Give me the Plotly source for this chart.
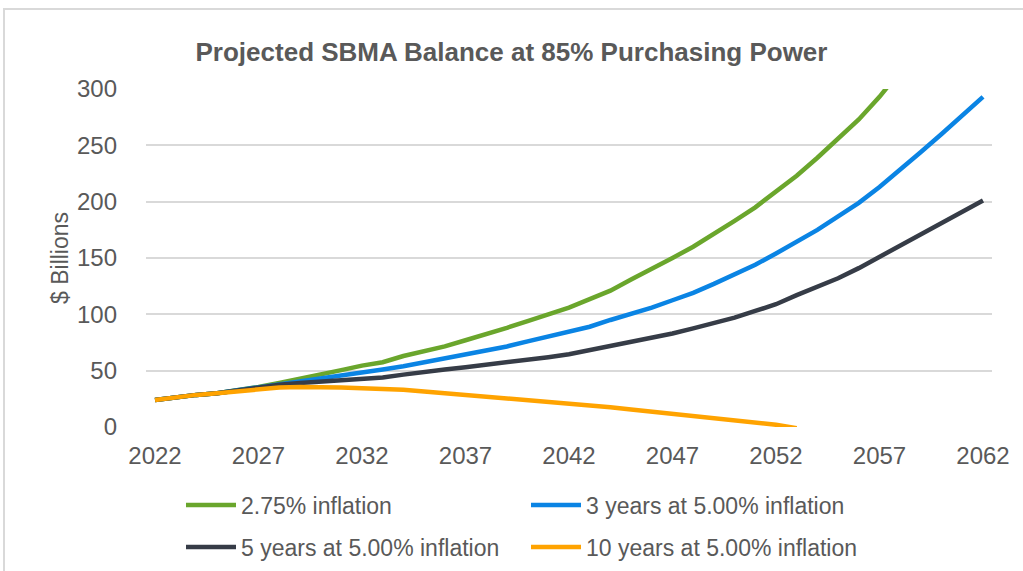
import plotly.graph_objects as go

years = list(range(2022, 2063))

infl_275 = [24, 26.5, 28.5, 30, 32.5, 35.5, 39, 42.5, 46, 50.5,
            54.5, 57.5, 63, 67, 71.5, 77, 82, 88, 94, 100,
            106, 113.5, 121, 131, 140, 150, 160, 171, 183, 195,
            209, 223, 239, 256, 273, 293, 315, 338, 362, 388, 415]

infl_3y5 = [24, 26.5, 28.5, 30, 32.5, 35, 38, 40.5, 43, 45.5,
            48, 51, 54, 57.5, 61, 64.5, 68, 71.5, 76, 80.5,
            85, 89, 95, 100, 106, 112.5, 119, 127, 135, 144,
            154, 164, 175, 187, 199, 213, 228, 244, 260, 276, 293]

infl_5y5 = [24, 26.5, 28.5, 30, 32.5, 35, 37.5, 39, 40, 41,
            42.5, 44, 46.5, 49, 51, 53, 55, 57, 59.5, 62,
            64.5, 68, 71.5, 75, 79, 83, 87.5, 92, 97, 103,
            109, 117, 124, 132, 141, 151, 161, 170, 180, 190, 201]

years_10y = list(range(2022, 2054))
infl_10y5 = [24, 26.5, 28.5, 30, 32, 34, 35, 35.5, 35.5, 35,
             34.5, 34, 33, 31.5, 30, 29, 27.5, 26, 24.5, 23,
             21, 19, 17.5, 15.5, 13.5, 11.5, 9.5, 8, 6.5, 4.5,
             2, -1]

x_ticks = [2022, 2027, 2032, 2037, 2042, 2047, 2052, 2057, 2062]
y_ticks = [0, 50, 100, 150, 200, 250, 300]

series = [
    ("2.75% inflation", years, infl_275, "#6AA62C", "legend"),
    ("3 years at 5.00% inflation", years, infl_3y5, "#0A84E4", "legend"),
    ("5 years at 5.00% inflation", years, infl_5y5, "#363C47", "legend2"),
    ("10 years at 5.00% inflation", years_10y, infl_10y5, "#FFA300", "legend2"),
]

FONT = "Liberation Sans, Arial, sans-serif"
GREY = "#595959"
W, H = 1023, 571

fig = go.Figure()
for name, xs, ys, col, lg in series:
    fig.add_trace(go.Scatter(x=xs, y=ys, name=name, mode="lines", legend=lg,
                             line=dict(color=col, width=4.5)))

leg_common = dict(orientation="h", xref="container", yref="container",
                  x=181 / W, xanchor="left", yanchor="middle",
                  entrywidth=280, entrywidthmode="pixels",
                  font=dict(size=23, color=GREY, family=FONT),
                  itemwidth=50, bgcolor="rgba(0,0,0,0)")

fig.update_layout(
    width=W, height=H,
    margin=dict(l=146, r=31, t=89, b=144, pad=0, autoexpand=False),
    paper_bgcolor="white", plot_bgcolor="white",
    font=dict(family=FONT, color=GREY, size=23),
    title=dict(text="<b>Projected SBMA Balance at 85% Purchasing Power</b>",
               x=0.5, xanchor="center", y=1 - 52 / H, yanchor="middle",
               font=dict(size=26, color=GREY, family=FONT)),
    showlegend=True,
    legend=dict(leg_common, y=1 - 505 / H),
    legend2=dict(leg_common, y=1 - 547 / H),
    xaxis=dict(range=[2021.565, 2062.435], tickmode="array", tickvals=x_ticks,
               showgrid=False, zeroline=False, showline=False, ticks="",
               automargin=False,
               ticklabelstandoff=12, tickfont=dict(size=24, color=GREY)),
    yaxis=dict(range=[0, 300], tickmode="array", tickvals=y_ticks,
               showgrid=True, gridcolor="#D9D9D9", gridwidth=2,
               zeroline=False, showline=False, ticks="", automargin=False,
               ticklabelstandoff=28, tickfont=dict(size=24, color=GREY)),
    annotations=[dict(text="$ Billions", xref="paper", yref="paper",
                      x=(60 - 146) / 846, y=0.5, xanchor="center", yanchor="middle",
                      textangle=-90, showarrow=False,
                      font=dict(size=23, color=GREY, family=FONT))],
    shapes=[dict(type="rect", xref="paper", yref="paper",
                 x0=(4 - 146) / 846, x1=1.2, y0=-0.6, y1=(427 - 9) / 338,
                 line=dict(color="#D9D9D9", width=2), fillcolor="rgba(0,0,0,0)",
                 layer="below")],
)

fig.write_html("out.html", config={"displayModeBar": False},
               post_script="document.body.style.margin='0';document.body.style.overflow='hidden';")
